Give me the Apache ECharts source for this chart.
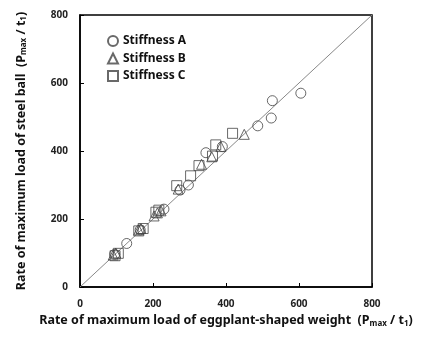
<!DOCTYPE html>
<html>
<head>
<meta charset="utf-8">
<script src="https://cdn.jsdelivr.net/npm/echarts@6/dist/echarts.min.js"></script>
<style>
html,body{margin:0;padding:0;background:#fff;}
#chart{width:428px;height:343px;}
</style>
</head>
<body>
<div id="chart"></div>
<script>
// 数据：各刚度的 [茄形砝码, 钢球] 最大载荷速率
var stiffnessA = [
	[605, 570], [527, 548], [524, 497], [487, 474], [390, 413], [345, 395],
	[297, 300], [274, 285], [230, 229], [128, 128], [95, 96], [165, 168]
];
var stiffnessB = [
	[450, 449], [386, 413], [361, 383], [333, 361], [269, 288], [222, 224],
	[203, 209], [161, 168], [91, 94], [98, 100], [167, 172], [212, 218]
];
var stiffnessC = [
	[418, 452], [372, 418], [363, 385], [326, 357], [303, 327], [265, 298],
	[216, 226], [173, 172], [105, 99], [96, 92], [208, 220], [161, 165]
];
var diagonal = [[0, 0], [800, 800]];
var ticks = [0, 200, 400, 600, 800];

var font = "'Noto Sans', sans-serif";
var chart = echarts.init(document.getElementById('chart'));

function scatterSeries(name, symbol, data, size) {
	return {
		name: name,
		type: 'scatter',
		symbol: symbol,
		symbolSize: size,
		itemStyle: {
			color: 'rgba(0,0,0,0)',
			borderColor: '#444',
			borderWidth: 1
		},
		data: data,
		z: 3
	};
}

var subStyle = {fontFamily: font, fontWeight: 'bold', fontSize: 8, verticalAlign: 'bottom', padding: [6, 0, 0, 0]};

var option = {
	animation: false,
	backgroundColor: '#fff',
	grid: {
		left: 80, top: 15, right: 56, bottom: 56,
		show: true,
		borderColor: '#000',
		borderWidth: 1.5
	},
	legend: {
		orient: 'vertical',
		left: 102,
		top: 30,
		itemWidth: 10,
		itemHeight: 10,
		itemGap: 5.5,
		textStyle: {fontFamily: font, fontWeight: 'bold', fontSize: 12, color: '#111'},
		data: ['Stiffness A', 'Stiffness B', 'Stiffness C']
	},
	xAxis: {
		type: 'value',
		min: ticks[0], max: ticks[ticks.length - 1], interval: 200,
		name: 'Rate of maximum load of eggplant-shaped weight  (P{sub|max} / t{sub|1})',
		nameLocation: 'middle',
		nameGap: 20,
		nameTextStyle: {
			fontFamily: font, fontWeight: 'bold', fontSize: 12.5, color: '#111',
			rich: {sub: subStyle}
		},
		axisLine: {lineStyle: {color: '#000', width: 1.5}},
		axisTick: {inside: true, length: 4, lineStyle: {color: '#000'}},
		axisLabel: {fontFamily: font, fontWeight: 'bold', fontSize: 10, color: '#222', margin: 12},
		splitLine: {show: false}
	},
	yAxis: {
		type: 'value',
		min: ticks[0], max: ticks[ticks.length - 1], interval: 200,
		name: 'Rate of maximum load of steel ball  (P{sub|max} / t{sub|1})',
		nameLocation: 'middle',
		nameGap: 52,
		nameTextStyle: {
			fontFamily: font, fontWeight: 'bold', fontSize: 12.5, color: '#111',
			rich: {sub: subStyle}
		},
		axisLine: {lineStyle: {color: '#000', width: 1.5}},
		axisTick: {inside: true, length: 4, lineStyle: {color: '#000'}},
		axisLabel: {fontFamily: font, fontWeight: 'bold', fontSize: 10, color: '#222', margin: 12},
		splitLine: {show: false}
	},
	series: [
		{
			type: 'line',
			data: diagonal,
			symbol: 'none',
			lineStyle: {color: '#888', width: 1},
			silent: true,
			z: 2
		},
		scatterSeries('Stiffness A', 'circle', stiffnessA, 10),
		scatterSeries('Stiffness B', 'triangle', stiffnessB, 10),
		scatterSeries('Stiffness C', 'rect', stiffnessC, 10)
	]
};
chart.setOption(option);
</script>
</body>
</html>
